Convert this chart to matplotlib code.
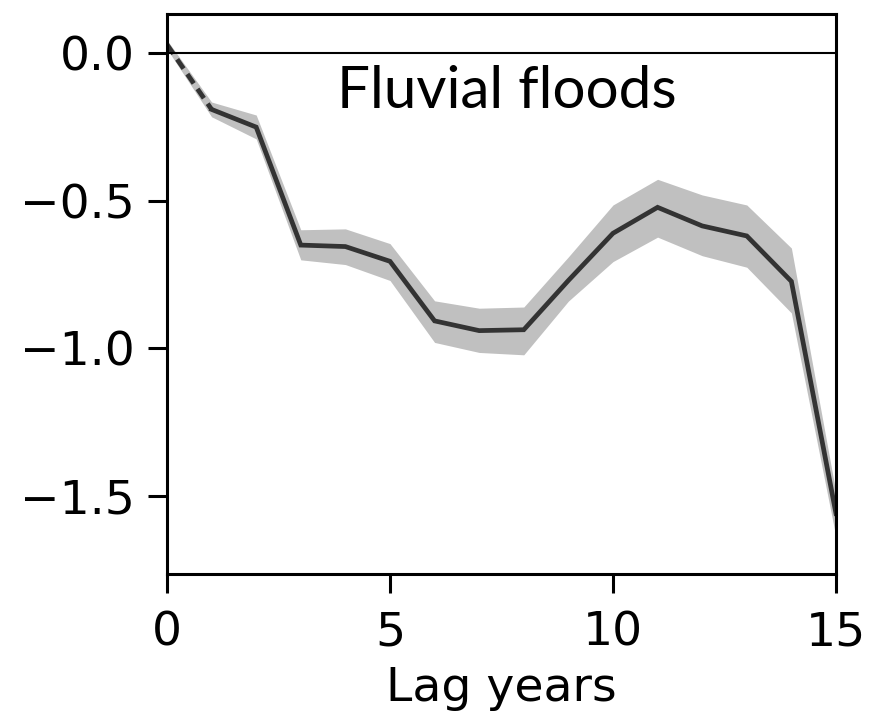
import matplotlib
matplotlib.use("Agg")
import matplotlib.pyplot as plt
import numpy as np

# lag response for fluvial floods
lags = [0, 1, 2, 3, 4, 5, 6, 7, 8, 9, 10, 11, 12, 13, 14, 15]
effect = [0.03, -0.19, -0.25, -0.65, -0.655, -0.705, -0.907, -0.94, -0.937,
          -0.77, -0.61, -0.522, -0.585, -0.619, -0.773, -1.56]
lower = [0.015, -0.215, -0.29, -0.70, -0.716, -0.77, -0.98, -1.014, -1.022,
         -0.84, -0.706, -0.623, -0.686, -0.725, -0.88, -1.64]
upper = [0.045, -0.165, -0.209, -0.598, -0.595, -0.645, -0.839, -0.864, -0.86,
         -0.69, -0.514, -0.427, -0.48, -0.514, -0.66, -1.49]

fig = plt.figure(figsize=(8.72, 7.13), dpi=100)
ax = fig.add_axes([0.1915, 0.195, 0.7672, 0.786])

ax.fill_between(lags, lower, upper, color="#c0c0c0", linewidth=0)
ax.plot(lags[:2], effect[:2], color="#333333", linewidth=3.4, linestyle=(0, (2.4, 1.4)))
ax.plot(lags[1:], effect[1:], color="#333333", linewidth=3.4, solid_joinstyle="miter")
ax.axhline(0, color="black", linewidth=1.5)

ax.set_xlim(0, 15)
ax.set_ylim(-1.765, 0.135)
ax.set_xticks([0, 5, 10, 15])
ax.set_yticks([0.0, -0.5, -1.0, -1.5])
ax.set_yticklabels(["0.0", "\u22120.5", "\u22121.0", "\u22121.5"])
ax.tick_params(labelsize=34, length=14, width=2.2)
ax.tick_params(axis="x", pad=12)
ax.tick_params(axis="y", pad=9)
for sp in ax.spines.values():
    sp.set_linewidth(2.2)

ax.set_xlabel("Lag years", fontsize=34, labelpad=8)
ax.text(0.508, 0.831, "Fluvial floods", transform=ax.transAxes, ha="center", va="baseline",
        fontsize=42, family=["Lato", "DejaVu Sans"])

fig.savefig("out.png", dpi=100)
